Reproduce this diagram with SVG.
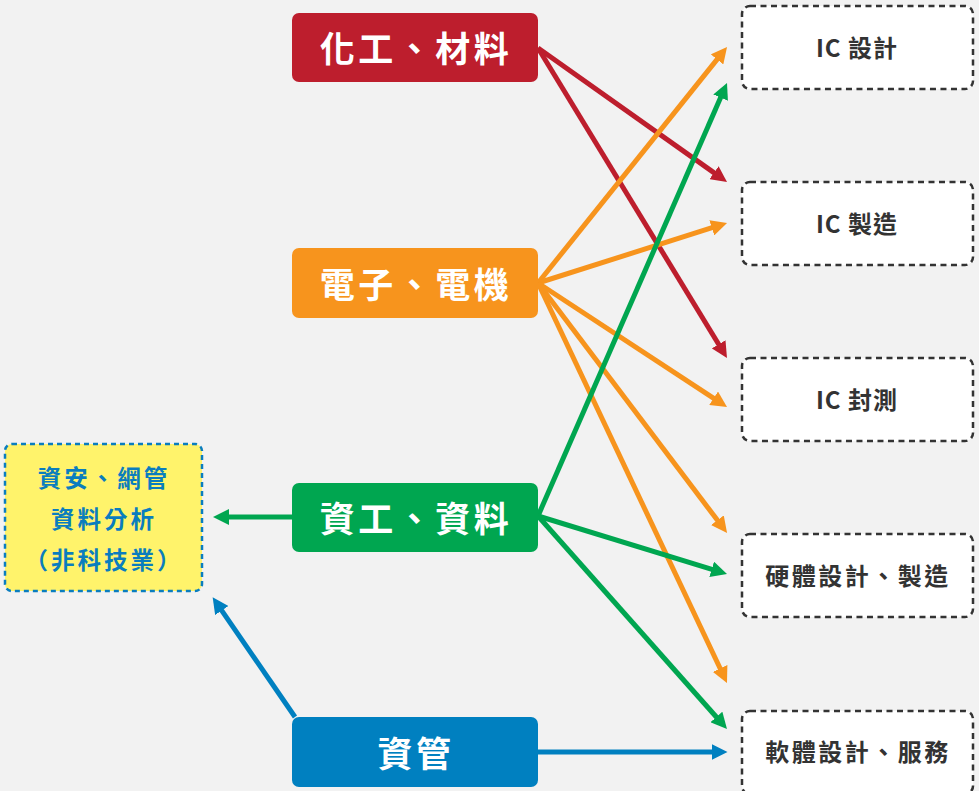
<svg xmlns="http://www.w3.org/2000/svg" width="979" height="791" viewBox="0 0 979 791">
<style>
.node text{font-family:"Noto Sans CJK TC","Noto Sans CJK SC",sans-serif;font-weight:700;fill:#fff;font-size:35px;letter-spacing:3.5px;text-anchor:middle;dominant-baseline:central}
.tgt rect{fill:#fff;stroke:#333;stroke-width:2.5;stroke-dasharray:6 4.5}
.tgt text{font-family:"Noto Sans CJK TC","Noto Sans CJK SC",sans-serif;font-weight:700;fill:#333;font-size:24px;letter-spacing:2.5px;text-anchor:middle;dominant-baseline:central}
.tgt text.ic{letter-spacing:1px}
.yel text{font-family:"Noto Sans CJK TC","Noto Sans CJK SC",sans-serif;font-weight:700;fill:#0A7DBE;font-size:23.5px;letter-spacing:3px;text-anchor:middle;dominant-baseline:central}
.c line{stroke-width:5;fill:none}
.r{stroke:#BD1E2D}.o{stroke:#F7941D}.g{stroke:#00A650}.b{stroke:#0080C0}
</style>
<defs>
<marker id="mr" markerUnits="userSpaceOnUse" markerWidth="16" markerHeight="16" refX="2" refY="8" orient="auto"><path d="M0,0 L16,8 L0,16 Z" fill="#BD1E2D"/></marker>
<marker id="mo" markerUnits="userSpaceOnUse" markerWidth="16" markerHeight="16" refX="2" refY="8" orient="auto"><path d="M0,0 L16,8 L0,16 Z" fill="#F7941D"/></marker>
<marker id="mg" markerUnits="userSpaceOnUse" markerWidth="16" markerHeight="16" refX="2" refY="8" orient="auto"><path d="M0,0 L16,8 L0,16 Z" fill="#00A650"/></marker>
<marker id="mb" markerUnits="userSpaceOnUse" markerWidth="16" markerHeight="16" refX="2" refY="8" orient="auto"><path d="M0,0 L16,8 L0,16 Z" fill="#0080C0"/></marker>
</defs>
<rect width="979" height="791" fill="#F2F2F2"/>
<g class="c" id="connectors">
<line class="r" x1="538" y1="48" x2="715.6" y2="173.9" marker-end="url(#mr)"/>
<line class="r" x1="538" y1="48" x2="719.7" y2="346" marker-end="url(#mr)"/>
<line class="o" x1="538" y1="283" x2="718.3" y2="57.9" marker-end="url(#mo)"/>
<line class="o" x1="538" y1="283" x2="713.7" y2="227.2" marker-end="url(#mo)"/>
<line class="o" x1="538" y1="283" x2="715.3" y2="399.3" marker-end="url(#mo)"/>
<line class="o" x1="538" y1="283" x2="718.6" y2="521.8" marker-end="url(#mo)"/>
<line class="o" x1="538" y1="283" x2="721" y2="670.3" marker-end="url(#mo)"/>
<line class="g" x1="538" y1="516" x2="721.4" y2="95.8" marker-end="url(#mg)"/>
<line class="g" x1="538" y1="516" x2="713.6" y2="569.9" marker-end="url(#mg)"/>
<line class="g" x1="538" y1="516" x2="717.7" y2="718.5" marker-end="url(#mg)"/>
<line class="g" x1="292" y1="517" x2="227" y2="517" marker-end="url(#mg)"/>
<line class="b" x1="295" y1="717" x2="220.6" y2="608.9" marker-end="url(#mb)"/>
<line class="b" x1="538" y1="752" x2="713.5" y2="752" marker-end="url(#mb)"/>
</g>
<g class="node" id="n-chem"><rect x="292" y="13" width="246" height="69" rx="7" fill="#BD1E2D"/><text x="416" y="46">化工、材料</text></g>
<g class="node" id="n-ee"><rect x="292" y="248" width="246" height="70" rx="7" fill="#F7941D"/><text x="416" y="282">電子、電機</text></g>
<g class="node" id="n-cs"><rect x="292" y="483" width="246" height="69" rx="7" fill="#00A650"/><text x="416" y="516">資工、資料</text></g>
<g class="node" id="n-im"><rect x="292" y="717" width="246" height="70" rx="7" fill="#0080C0"/><text x="416" y="751">資管</text></g>
<g class="tgt" id="t-icd"><rect x="742" y="6" width="231" height="83" rx="8"/><text class="ic" x="857" y="46">IC 設計</text></g>
<g class="tgt" id="t-icm"><rect x="742" y="182" width="231" height="83" rx="8"/><text class="ic" x="857" y="222">IC 製造</text></g>
<g class="tgt" id="t-icp"><rect x="742" y="358" width="231" height="83" rx="8"/><text class="ic" x="857" y="398">IC 封測</text></g>
<g class="tgt" id="t-hw"><rect x="742" y="534" width="231" height="83" rx="8"/><text x="858" y="574">硬體設計、製造</text></g>
<g class="tgt" id="t-sw"><rect x="742" y="711" width="231" height="83" rx="8"/><text x="858" y="750">軟體設計、服務</text></g>
<g class="yel" id="t-sec"><rect x="5" y="444" width="197" height="147" rx="7" fill="#FFF36B" stroke="#0A7DBE" stroke-width="2.5" stroke-dasharray="5 4"/><text x="104" y="477">資安、網管</text><text x="104" y="518">資料分析</text><text x="104" y="559">（非科技業）</text></g>
</svg>
